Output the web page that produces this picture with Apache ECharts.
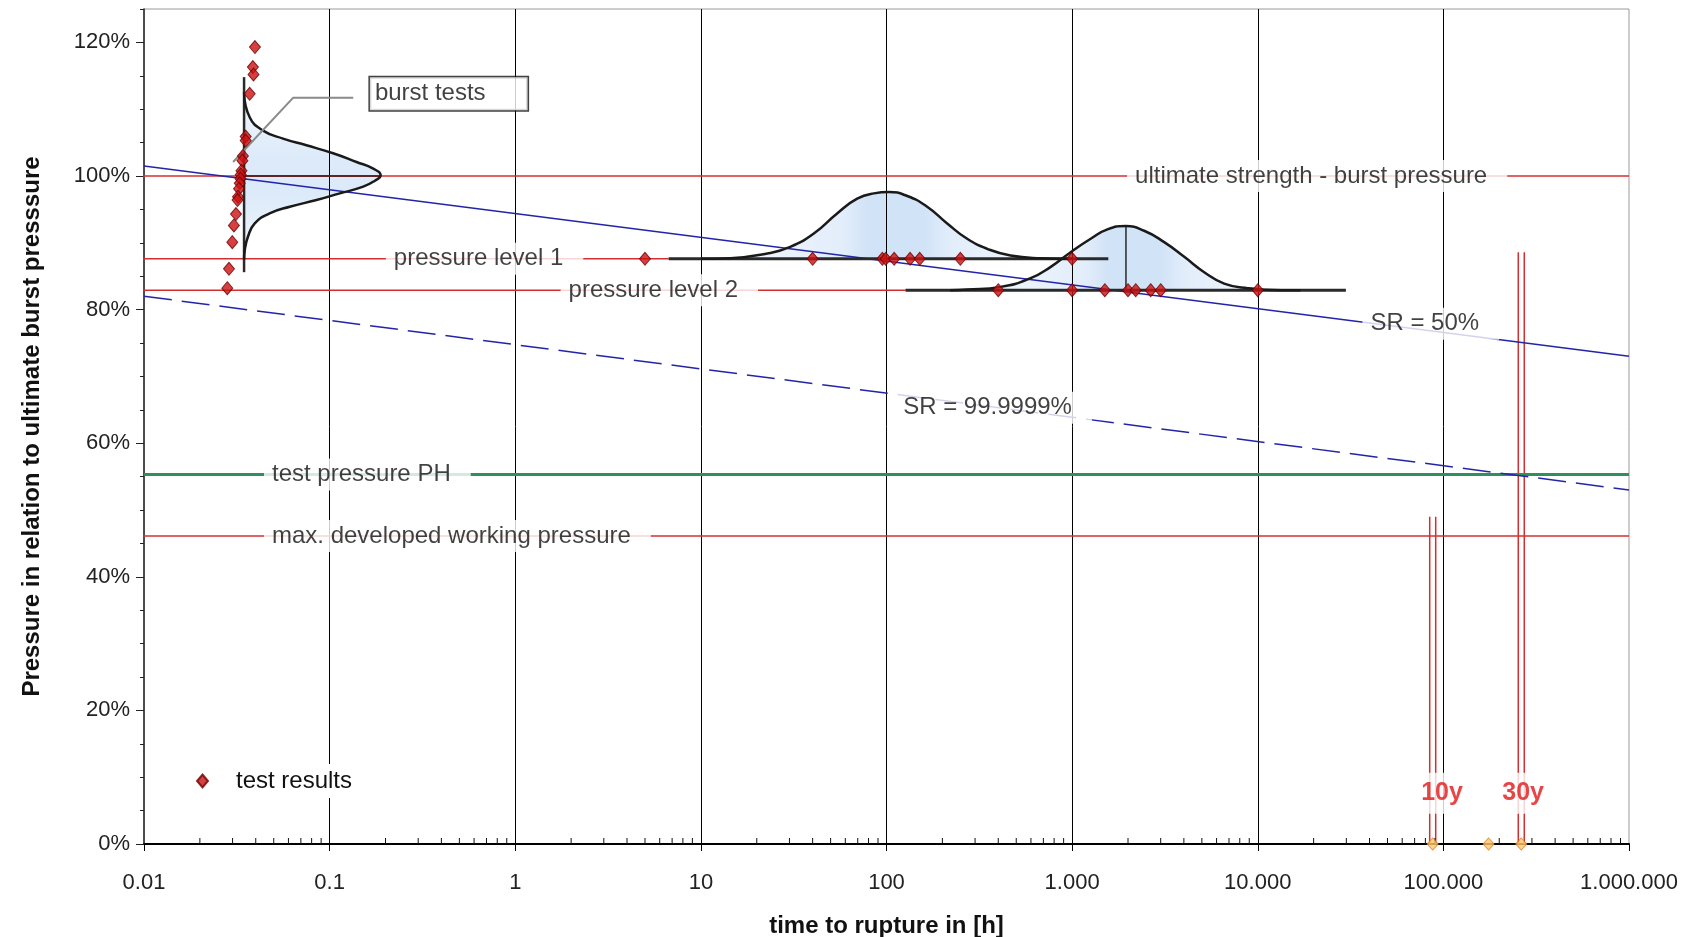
<!DOCTYPE html>
<html>
<head>
<meta charset="utf-8">
<title>Pressure in relation to ultimate burst pressure vs. time to rupture</title>
<script src="https://cdn.jsdelivr.net/npm/echarts@6/dist/echarts.min.js"></script>
<style>
  html, body { margin: 0; padding: 0; background: #fff; }
  #main { width: 1690px; height: 937px; }
</style>
</head>
<body>
<div id="main"></div>
<script>
// axis ticks
var xTickLabels = ['0.01', '0.1', '1', '10', '100', '1.000', '10.000', '100.000', '1.000.000'];
var xDecades = [0.01, 0.1, 1, 10, 100, 1000, 10000, 100000];
var xMinorSteps = [2, 3, 4, 5, 6, 7, 8, 9];
var yTicks = [0, 20, 40, 60, 80, 100, 120];

// pressure levels (% of burst pressure)
var burstLevel = 100;
var level1 = 87.6;
var level2 = 82.9;
var testPressure = 55.3;
var workingPressure = 46.1;

// test results: [time h, pressure %]
var burstTests = [
  [0.0396, 119.3], [0.0386, 116.3], [0.0389, 115.2], [0.0371, 112.3], [0.0353, 105.9],
  [0.0353, 105.3], [0.0341, 103.0], [0.0339, 102.3], [0.0335, 100.8], [0.0332, 100.2],
  [0.0331, 99.6], [0.0328, 98.9], [0.0325, 98.1], [0.0321, 96.9], [0.0319, 96.4],
  [0.0313, 94.3], [0.0305, 92.6], [0.0299, 90.1], [0.0287, 86.1], [0.0281, 83.2]
];
var level1Times = [5, 40, 95, 99, 110, 134, 151, 250, 1000];
var level2Times = [400, 1000, 1500, 2000, 2200, 2650, 3000, 10000];

// 10, 20, 30 years in hours
var lifetimeHours = [87600, 175200, 262800];
var lifetimeLabels = ['10y', '30y'];
var lifetimeLines = [[87600, 49], [262800, 88.6]];
var lifetimeLabelAnchors = [[98400, 7.6], [269000, 7.6]];

// survival rate lines: [time h, pressure %]
var sr50 = [[0.01, 101.5], [1000000, 73.0]];
var sr999999 = [[0.01, 82.0], [1000000, 53.0]];

// distribution curves
var burstBase = 0.0346;
var burstCurve = [
  [0.0346, 112.5], [0.0371, 108.8], [0.0438, 106.8], [0.0561, 105.6], [0.0750, 104.6],
  [0.1044, 103.4], [0.1396, 102.1], [0.1718, 101.1], [0.1884, 100.1], [0.1754, 99.3],
  [0.1517, 98.4], [0.1135, 97.4], [0.0849, 96.4], [0.0610, 95.4], [0.0475, 94.4],
  [0.0395, 92.9], [0.0363, 90.9], [0.0349, 88.9], [0.0346, 87.5]
];
var level1Curve = [
  [10, 87.6], [14.4, 87.7], [22.8, 88.4], [30.3, 89.4], [40.6, 91.4], [54.2, 94.4],
  [69.5, 96.6], [85.5, 97.4], [102.8, 97.6], [129.4, 97.0], [165.6, 95.4], [212.3, 92.9],
  [272, 90.6], [349, 89.1], [466, 88.1], [677, 87.7], [1000, 87.6]
];
var level2Curve = [
  [220, 82.9], [272, 83.0], [412, 83.4], [598, 84.7], [767, 86.4], [982, 88.6],
  [1259, 90.6], [1549, 92.0], [1945, 92.5], [2443, 91.8], [3133, 90.1], [4018, 87.9],
  [5146, 85.6], [6595, 83.9], [8825, 83.2], [13340, 82.9], [17000, 82.9]
];
var level2Peak = 1950;

// where the reference lines start/stop
var lineStart = 0.0083;
var level1BaseRange = [6.7, 1567];
var level2BaseRange = [126.5, 29850];
var burstBaseRange = [114.8, 85.6];
var burstMeanEnd = 0.188;
var burstLeader = [[0.134, 111.7], [0.0635, 111.7], [0.0302, 102.1]];
var burstBoxAnchor = [0.1648, 112.3];

// text annotations (left edge of the white gap)
var annotationTexts = [
  'ultimate strength - burst pressure', 'pressure level 1', 'pressure level 2',
  'test pressure PH', 'max. developed working pressure', 'SR = 50%', 'SR = 99.9999%'
];
var annotationAnchors = [
  [1977, 100], [0.2009, 87.6], [1.755, 82.9], [0.0443, 55.3], [0.0443, 46.1], [36620, 77.9], [111.3, 65.3]
];

var FONT = '"Liberation Sans", Arial, sans-serif';
var RED = '#d23030';
var BLUE = '#2424a8';

var xMinorValues = [];
xDecades.forEach(function (d) {
  xMinorSteps.forEach(function (s) { xMinorValues.push([d * s, 0]); });
});

function seg(name, data, color, width, extra) {
  var s = {
    type: 'line', name: name, data: data, symbol: 'none', clip: false, silent: true,
    lineStyle: { color: color, width: width }, z: 3
  };
  for (var k in extra) s[k] = extra[k];
  return s;
}

function fillSeries(points, vertical) {
  var grad = vertical
    ? new echarts.graphic.LinearGradient(0, 0, 0, 1, [
        { offset: 0, color: 'rgba(240,246,253,0.85)' },
        { offset: 0.4, color: 'rgba(214,230,248,0.85)' },
        { offset: 0.6, color: 'rgba(214,230,248,0.85)' },
        { offset: 1, color: 'rgba(240,246,253,0.85)' }])
    : new echarts.graphic.LinearGradient(0, 0, 1, 0, [
        { offset: 0, color: 'rgba(242,247,253,0.85)' },
        { offset: 0.38, color: 'rgba(222,235,250,0.85)' },
        { offset: 0.45, color: 'rgba(204,224,246,0.9)' },
        { offset: 0.6, color: 'rgba(204,224,246,0.9)' },
        { offset: 0.68, color: 'rgba(222,235,250,0.85)' },
        { offset: 1, color: 'rgba(242,247,253,0.85)' }]);
  return {
    type: 'custom', coordinateSystem: 'cartesian2d', silent: true, z: -1,
    data: [points[0]],
    renderItem: function (params, api) {
      var pts = points.map(function (p) { return api.coord(p); });
      return { type: 'polygon', shape: { points: pts }, style: { fill: grad, stroke: null } };
    }
  };
}

var chart = echarts.init(document.getElementById('main'));

var series = [
  fillSeries(burstCurve, true),
  fillSeries(level1Curve, false),
  fillSeries(level2Curve, false),

  seg('ultimate', [[lineStart, burstLevel], [1000000, burstLevel]], RED, 1.5),
  seg('level1 red', [[lineStart, level1], [level1BaseRange[0], level1]], RED, 1.5),
  seg('level2 red', [[lineStart, level2], [level2BaseRange[0], level2]], RED, 1.5),
  seg('working', [[lineStart, workingPressure], [1000000, workingPressure]], RED, 1.5),
  seg('test pressure', [[0.01, testPressure], [1000000, testPressure]], '#2f8f5f', 3),
  seg('SR 50', sr50, BLUE, 1.5),
  seg('SR 99.9999', sr999999, BLUE, 1.5, { lineStyle: { color: BLUE, width: 1.5, type: [28, 10] } }),

  seg('level1 base', [[level1BaseRange[0], level1], [level1BaseRange[1], level1]], '#2a2a2a', 3),
  seg('level2 base', [[level2BaseRange[0], level2], [level2BaseRange[1], level2]], '#2a2a2a', 3),
  seg('burst base', [[burstBase, burstBaseRange[0]], [burstBase, burstBaseRange[1]]], '#2a2a2a', 2.5),
  seg('burst mean', [[burstBase, burstLevel], [burstMeanEnd, burstLevel]], '#3a1010', 1.5),
  seg('level2 peak', [[level2Peak, level2], [level2Peak, 92.5]], '#2a2a2a', 1.5),

  seg('burst curve', burstCurve, '#1a1a1a', 2.5, { smooth: true }),
  seg('level1 curve', level1Curve, '#1a1a1a', 2.5, { smooth: true }),
  seg('level2 curve', level2Curve, '#1a1a1a', 2.5, { smooth: true }),

  seg('leader', burstLeader, '#8a8a8a', 2),

  {
    type: 'custom', name: 'lifetime lines', coordinateSystem: 'cartesian2d', silent: true, z: 3,
    data: lifetimeLines,
    renderItem: function (params, api) {
      var b = api.coord([api.value(0), 0]);
      var t = api.coord([api.value(0), api.value(1)]);
      return {
        type: 'group',
        children: [-3, 3].map(function (d) {
          return { type: 'line', shape: { x1: b[0] + d, y1: b[1], x2: t[0] + d, y2: t[1] },
                   style: { stroke: RED, lineWidth: 1.5 } };
        })
      };
    }
  },

  {
    type: 'custom', name: 'minor ticks', coordinateSystem: 'cartesian2d', silent: true, z: 4,
    data: xMinorValues,
    renderItem: function (params, api) {
      var p = api.coord([api.value(0), 0]);
      return { type: 'line', shape: { x1: p[0], y1: p[1], x2: p[0], y2: p[1] - 6 },
               style: { stroke: '#111', lineWidth: 1 } };
    }
  },

  {
    type: 'scatter', name: 'test results', z: 6,
    data: burstTests
      .concat(level1Times.map(function (t) { return [t, level1]; }))
      .concat(level2Times.map(function (t) { return [t, level2]; })),
    symbol: 'diamond', symbolSize: [11, 13],
    itemStyle: { color: '#cc1010', borderColor: '#6a0000', borderWidth: 1 }
  },

  {
    type: 'scatter', name: 'lifetime', z: 6, silent: true,
    data: lifetimeHours.map(function (h) { return [h, 0]; }),
    symbol: 'diamond', symbolSize: [11, 12], clip: false,
    itemStyle: { color: '#ffc96a', borderColor: '#e07a20', borderWidth: 1 }
  },

  {
    type: 'scatter', name: 'annotations', z: 8, silent: true,
    data: annotationAnchors.map(function (p, i) { return { value: p, name: annotationTexts[i] }; }),
    symbolSize: 0,
    label: {
      show: true, position: 'right', distance: 0, formatter: '{b}',
      fontFamily: FONT, fontSize: 24, color: '#111',
      backgroundColor: '#fff', padding: [4, 20, 4, 8]
    }
  },

  {
    type: 'scatter', name: 'burst box', z: 8, silent: true,
    data: [{ value: burstBoxAnchor, name: 'burst tests' }],
    symbolSize: 0,
    label: {
      show: true, position: 'right', distance: 0, formatter: '{b}',
      fontFamily: FONT, fontSize: 24, color: '#111',
      backgroundColor: '#fff', borderColor: '#111', borderWidth: 1.5, padding: [5, 42, 4, 5]
    }
  },

  {
    type: 'scatter', name: 'lifetime labels', z: 8, silent: true,
    data: lifetimeLabelAnchors.map(function (p, i) { return { value: p, name: lifetimeLabels[i] }; }),
    symbolSize: 0,
    label: {
      show: true, position: 'inside', formatter: '{b}',
      fontFamily: FONT, fontSize: 25, fontWeight: 'bold', color: '#e01818',
      backgroundColor: '#fff', padding: [8, 3]
    }
  }
];

chart.setOption({
  animation: false,
  backgroundColor: '#fff',
  textStyle: { fontFamily: FONT },
  grid: {
    left: 144, right: 61, top: 9, bottom: 93, outerBoundsMode: 'none',
    show: true, borderColor: '#9a9a9a', borderWidth: 1, backgroundColor: 'transparent'
  },
  legend: {
    data: [{ name: 'test results', icon: 'diamond' }],
    left: 190, top: 764, itemWidth: 11, itemHeight: 13,
    backgroundColor: '#fff', padding: [5, 6],
    textStyle: { fontFamily: FONT, fontSize: 24, color: '#111', padding: [0, 0, 0, 23] },
    selectedMode: false
  },
  xAxis: {
    type: 'log', logBase: 10, min: 0.01, max: 1000000, splitNumber: 8,
    axisLine: { onZero: false, lineStyle: { color: '#000', width: 2 } },
    axisTick: { show: true, length: 7, lineStyle: { color: '#000' } },
    axisLabel: {
      fontSize: 22, color: '#222', margin: 28, fontFamily: FONT,
      formatter: function (v) { return xTickLabels[Math.round(Math.log10(v)) + 2] || ''; }
    },
    splitLine: { show: true, showMinLine: false, showMaxLine: false, lineStyle: { color: '#000', width: 1 } },
    name: 'time to rupture in [h]', nameLocation: 'middle', nameGap: 70,
    nameTextStyle: { fontSize: 24, fontWeight: 'bold', color: '#111', fontFamily: FONT }
  },
  yAxis: [{
    type: 'value', min: 0, max: 125, interval: 20,
    axisLine: { show: true, lineStyle: { color: '#222', width: 1.5 } },
    axisTick: { show: true, length: 8, customValues: yTicks, lineStyle: { color: '#222' } },
    axisLabel: {
      customValues: yTicks, fontSize: 22, color: '#222', margin: 14, fontFamily: FONT,
      formatter: function (v) { return v % 20 === 0 && v <= 120 ? v + '%' : ''; }
    },
    splitLine: { show: false },
    name: 'Pressure in relation to ultimate burst presssure', nameLocation: 'middle', nameGap: 100,
    nameTextStyle: { fontSize: 24, fontWeight: 'bold', color: '#111', fontFamily: FONT }
  }, {
    type: 'value', min: 0, max: 125, interval: 5, position: 'left',
    axisLine: { show: false },
    axisTick: { show: true, length: 4, lineStyle: { color: '#222' } },
    axisLabel: { show: false },
    splitLine: { show: false }
  }],
  series: series
});
</script>
</body>
</html>
